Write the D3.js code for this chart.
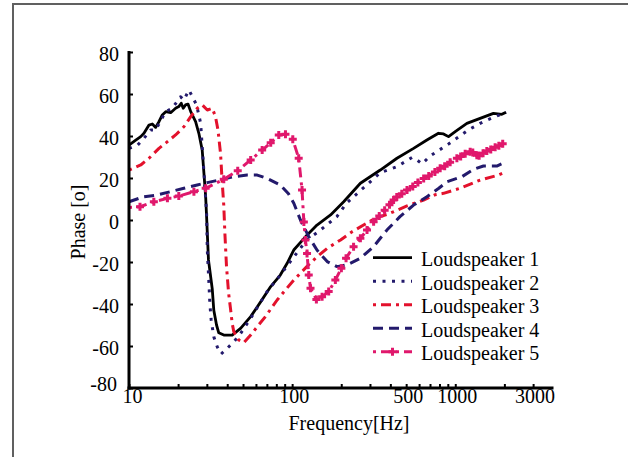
<!DOCTYPE html>
<html>
<head>
<meta charset="utf-8">
<script src="https://cdn.jsdelivr.net/npm/d3@7"></script>
<style>
  body { margin: 0; background: #fff; }
  svg { display: block; }
  text { font-family: "Liberation Serif", "Times New Roman", serif; fill: #000; }
</style>
</head>
<body>
<div id="chart"></div>
<script>
// phase response of five loudspeakers, [frequency Hz, phase deg]
const ls1 = [[10,35.7],[11,38],[11.8,39.7],[12.35,41.3],[13.26,45.2],[13.9,45.7],[14.57,44.1],[15.26,46.8],
  [16,50],[16.8,51.6],[18,51.1],[19.3,53.2],[20.2,54],[20.9,55.6],[21.5,53.2],[22.2,54.8],[23,55.2],
  [23.9,51.6],[25.6,46.8],[26.8,41.3],[28.1,33.3],[28.8,22.2],[29.5,11.1],[29.9,1.6],[30.7,-19],
  [32.4,-33],[33.1,-43],[34.4,-50],[35.5,-53.7],[38.1,-54.8],[42.9,-54.8],[48.3,-51.6],[55.7,-46],
  [64.1,-39],[73.9,-31.7],[84.6,-26.2],[93.2,-20.6],[102.3,-14.3],[121,-7.9],[142,-2.4],[172,2.4],
  [207,8.7],[262,17.5],[347,23.8],[439,29.4],[555,34.1],[670,38.1],[789,41.3],[847,41],[909,39.7],
  [999,42.1],[1178,46],[1420,48.4],[1713,50.8],[1929,50.3],[2048,51.3]];

const ls2 = [[10,34.1],[11.3,35.7],[12.35,38.9],[13.6,42.9],[14.57,42.9],[16.77,51.6],[18.4,53.2],
  [20.7,58.7],[21.7,57.1],[23.3,61.9],[25.95,54.8],[27.5,46],[28.1,34.9],[29.1,17.5],[29.9,3.2],
  [30.2,-14.3],[30.9,-30],[31.3,-39.7],[31.9,-47.6],[33.1,-55.6],[34.7,-60.3],[36.7,-63.8],[40,-61.1],
  [43.9,-58],[48.3,-54],[55.7,-46.8],[70.2,-34.1],[84.6,-26.2],[104.4,-16.7],[123,-9.5],[149,-4.8],
  [188,1.6],[215,7.9],[262,14],[347,22.5],[439,25.4],[543,29.8],[582,28.6],[625,26.7],[702,30.5],
  [909,36.2],[1204,42.9],[1420,46],[1713,48.9],[2048,51.3]];

const ls3 = [[10,23.8],[11.8,26.2],[13.26,29.4],[15.26,34.1],[17.2,37.3],[19.3,40.5],[21.7,44.4],
  [23.9,49.2],[26.2,53.2],[28.1,54.8],[30.2,52.4],[32.4,53.2],[33.9,49.2],[35.1,42.9],[36.4,31.7],
  [37.2,19],[38.1,7],[38.7,-6.3],[39.6,-22.2],[40.8,-34.9],[42,-42.9],[42.9,-49.2],[43.9,-53.2],
  [47,-57.1],[50.5,-58.4],[55.7,-54.8],[61.1,-50.8],[68.6,-46],[80.9,-38.1],[91,-33.3],[102.4,-28.6],
  [123,-22.2],[142,-17.5],[164,-13.5],[198,-9.5],[233,-5.6],[274,-2.4],[331,1.2],[381,2.6],
  [506,6.7],[639,9.5],[750,12],[847,12.7],[1071,15.1],[1420,19],[1838,21.4],[2048,23]];

const ls4 = [[10,8.7],[12.35,11.1],[14.9,11.9],[18,13.5],[21.7,15.1],[26.2,16.7],[30.2,17.8],[35.5,19],
  [43.9,20.6],[53,21.4],[61.1,21.4],[70.3,19.8],[84.6,16.7],[95,12.5],[102.4,8],[112.4,0],
  [126.4,-7.9],[142,-14.3],[164,-19.8],[188.6,-22.2],[217,-21.4],[262,-18.2],[316,-12.7],[347,-8.7],
  [381,-4.8],[458,1.6],[555,7.1],[670,11.1],[789,15],[888,18.2],[1098,20.6],[1293,24.1],[1488,25.7],
  [1797,25.7],[2070,27.8]];

const ls5 = [[10,6],[11.68,6.3],[14.2,8.7],[17.2,10.3],[20.2,11.4],[25,13.5],[29.5,15.1],[38.1,19.4],
  [46.4,23.5],[55.7,28.6],[65.5,33.3],[73.9,36.8],[82.8,40.5],[91,40.8],[100.9,38.4],[109.7,29.4],
  [115,14.3],[118,-1],[120.6,-9.5],[123.4,-15.9],[126.4,-26.2],[129.6,-32.5],[140.8,-37.8],
  [152.6,-36.5],[167.5,-34.1],[184,-28.6],[200.3,-23],[214,-18.2],[238,-12.7],[262,-8.7],
  [287.7,-4.8],[315.8,-0.8],[342,1.9],[369,4.6],[395,7.3],[418.7,9.5],[437.9,11],[470,12.5],
  [506,14.3],[548.7,16],[590,17.8],[640,19.8],[687.6,21],[750,22.8],[808,24.6],[861,25.6],
  [930,27.5],[1023,29.4],[1079,30.2],[1150,31.6],[1234,32.5],[1280,32.2],[1356,30.8],[1400,30.6],
  [1480,31.8],[1561,32.8],[1650,33.6],[1755,34.6],[1850,35.3],[1953,36.3]];

const seriesNames = ["Loudspeaker 1", "Loudspeaker 2", "Loudspeaker 3", "Loudspeaker 4", "Loudspeaker 5"];
const xTicks = [20,30,40,50,60,70,80,90,100,200,300,400,500,600,700,800,900,1000,2000,3000];
const xLabels = [10, 100, 500, 1000, 3000];
const yTicks = [-80, -60, -40, -20, 0, 20, 40, 60, 80];

const W = 628, H = 457;
const svg = d3.select("#chart").append("svg").attr("width", W).attr("height", H);

// gray frame (top + left only)
svg.append("line").attr("x1", 12).attr("x2", W).attr("y1", 4).attr("y2", 4)
  .attr("stroke", "#606060").attr("stroke-width", 2);
svg.append("line").attr("x1", 13).attr("x2", 13).attr("y1", 3).attr("y2", H)
  .attr("stroke", "#606060").attr("stroke-width", 2);

const x = d3.scaleLog().domain([10, 4000]).range([129, 553.5]);
const y = d3.scaleLinear().domain([-80, 80]).range([388, 52]);

const styles = [
  { color: "#000000", dash: null, width: 2.8 },
  { color: "#231a6c", dash: "3,6.5", width: 3 },
  { color: "#e3112c", dash: "3,5,10,5", width: 3 },
  { color: "#231a6c", dash: "10,6", width: 3 },
  { color: "#e0186c", dash: "3,5,10,5", width: 3 }
];

const line = d3.line().x(d => x(d[0])).y(d => y(d[1]));
const allSeries = [ls1, ls2, ls3, ls4, ls5];

const plot = svg.append("g");
allSeries.forEach((s, i) => {
  plot.append("path")
    .datum(s)
    .attr("d", line)
    .attr("fill", "none")
    .attr("stroke", styles[i].color)
    .attr("stroke-width", styles[i].width)
    .attr("stroke-dasharray", styles[i].dash)
    .attr("stroke-linejoin", "round");
});

// plus markers on loudspeaker 5
const plus = "M-4,0H4M0,-4V4";
plot.selectAll(".mk")
  .data(ls5.slice(1))
  .join("path")
  .attr("class", "mk")
  .attr("d", plus)
  .attr("transform", d => `translate(${x(d[0])},${y(d[1])})`)
  .attr("stroke", styles[4].color)
  .attr("stroke-width", 3)
  .attr("fill", "none");

// axes
const xAxis = d3.axisBottom(x)
  .tickValues(xTicks.concat([10]))
  .tickFormat(d => xLabels.includes(d) ? String(d) : "")
  .tickSizeInner(-4).tickSizeOuter(0).tickPadding(1);
const gx = svg.append("g").attr("transform", "translate(0,388)").call(xAxis);
gx.select(".domain").attr("stroke-width", 3).attr("d", "M127.5,0H553.5");
gx.selectAll(".tick line").attr("stroke-width", 2);
gx.selectAll(".tick text").attr("font-size", 20).attr("font-family", "Liberation Serif")
  .attr("dx", d => d === 10 ? 3 : 1.5);

const yAxis = d3.axisLeft(y)
  .tickValues(yTicks)
  .tickFormat(d => String(d))
  .tickSizeInner(-4).tickSizeOuter(0).tickPadding(10);
const gy = svg.append("g").attr("transform", "translate(129,0)").call(yAxis);
gy.select(".domain").attr("stroke-width", 3).attr("d", "M0,51V389.5");
gy.selectAll(".tick line").attr("stroke-width", 2);
gy.selectAll(".tick text").attr("font-size", 20).attr("font-family", "Liberation Serif")
  .attr("dy", d => d === -80 ? "0.1em" : "0.4em")
  .attr("dx", d => d === -80 ? -2 : 0);

// axis titles
svg.append("text").attr("x", 349).attr("y", 430).attr("text-anchor", "middle")
  .attr("font-size", 20).text("Frequency[Hz]");
svg.append("text").attr("transform", "translate(85,222) rotate(-90)").attr("text-anchor", "middle")
  .attr("font-size", 20).text("Phase [o]");

// legend
const legend = svg.append("g");
seriesNames.forEach((name, i) => {
  const ly = 257.7 + i * 23.5;
  legend.append("line").attr("x1", 373).attr("x2", 412).attr("y1", ly).attr("y2", ly)
    .attr("stroke", styles[i].color).attr("stroke-width", styles[i].width)
    .attr("stroke-dasharray", styles[i].dash);
  if (i === 4) {
    legend.append("path").attr("d", plus).attr("transform", `translate(392.5,${ly})`)
      .attr("stroke", styles[i].color).attr("stroke-width", 3);
  }
  legend.append("text").attr("x", 421).attr("y", ly + 8.5).attr("font-size", 20).text(name);
});
</script>
</body>
</html>
